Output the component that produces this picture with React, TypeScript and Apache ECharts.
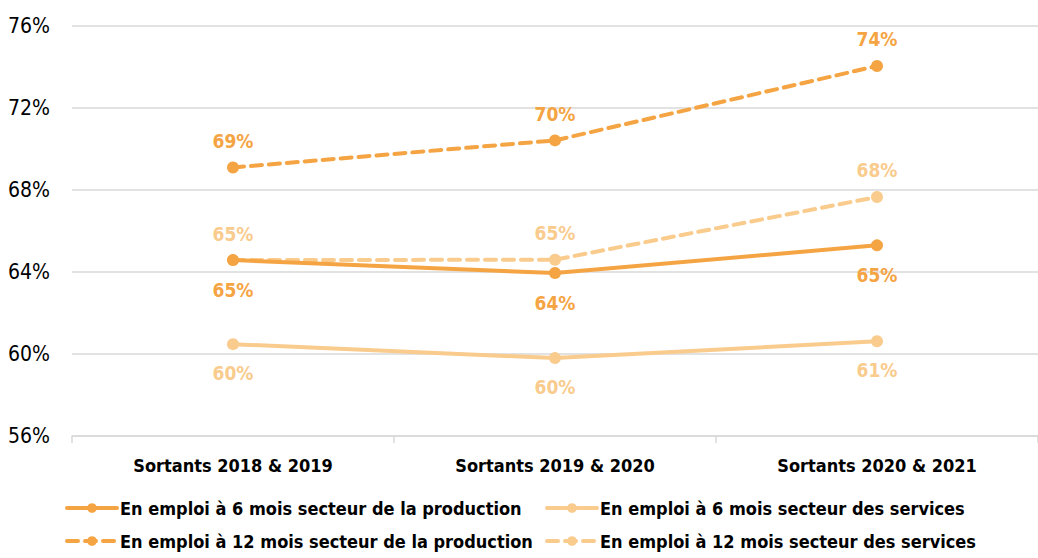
import React, { useEffect, useRef } from "react";
import * as echarts from "echarts";

const categories = ["Sortants 2018 & 2019", "Sortants 2019 & 2020", "Sortants 2020 & 2021"];
const seriesNames = [
  "En emploi à 6 mois secteur de la production",
  "En emploi à 6 mois secteur des services",
  "En emploi à 12 mois secteur de la production",
  "En emploi à 12 mois secteur des services",
];
const prod6 = [64.58, 63.95, 65.3];
const serv6 = [60.48, 59.8, 60.62];
const prod12 = [69.1, 70.42, 74.05];
const serv12 = [64.58, 64.6, 67.66];
const yTicks = { min: 56, max: 76, interval: 4 };

const DARK = "#F5A443";
const LIGHT = "#F9CB8D";
const FONT = "'DejaVu Sans Condensed', 'Liberation Sans Narrow', 'Arial Narrow', sans-serif";

export default function App() {
  const ref = useRef<HTMLDivElement>(null);
  useEffect(() => {
    document.body.style.margin = "0";
    const chart = echarts.init(ref.current!, null, { renderer: "svg" });
    const mk = (name: string, data: number[], color: string, dashed: boolean, pos: string, dist: number) => ({
      name,
      type: "line",
      data,
      symbol: "circle",
      symbolSize: 12,
      itemStyle: { color },
      lineStyle: { color, width: 4, type: dashed ? [11, 7] : "solid", cap: "round" },
      label: {
        show: true,
        position: pos,
        distance: dist,
        color,
        fontFamily: FONT,
        fontWeight: "bold",
        fontSize: 19,
        formatter: (p: any) => Math.round(p.value) + "%",
      },
      z: dashed ? 2 : 3,
    });
    const legendPos = [
      { left: 63, top: 497 },
      { left: 543, top: 497 },
      { left: 63, top: 530 },
      { left: 543, top: 530 },
    ];
    chart.setOption({
      animation: false,
      backgroundColor: "#fff",
      textStyle: { fontFamily: FONT },
      grid: { left: 72, right: -13, top: 26, bottom: 122, containLabel: false },
      legend: seriesNames.map((n, i) => ({
        data: [n],
        left: legendPos[i].left,
        top: legendPos[i].top,
        itemWidth: 50,
        itemHeight: 12,
        itemGap: 6,
        padding: 2,
        selectedMode: false,
        lineStyle: { width: 4 },
        textStyle: { fontFamily: FONT, fontWeight: "bold", fontSize: 18, color: "#000", padding: [0, 0, 0, -2] },
      })),
      xAxis: {
        type: "category",
        data: categories,
        axisLine: { show: true, lineStyle: { color: "#d9d9d9", width: 1.5 } },
        axisTick: { show: true, length: 7, lineStyle: { color: "#d9d9d9", width: 1.5 } },
        axisLabel: { fontFamily: FONT, fontWeight: "bold", fontSize: 18, color: "#000", margin: 20 },
      },
      yAxis: {
        type: "value",
        min: yTicks.min,
        max: yTicks.max,
        interval: yTicks.interval,
        axisLine: { show: false },
        axisTick: { show: false },
        splitLine: { lineStyle: { color: "#d9d9d9", width: 1.5 } },
        axisLabel: { fontFamily: FONT, fontSize: 21, color: "#000", margin: 22, formatter: "{value}%" },
      },
      series: [
        mk(seriesNames[0], prod6, DARK, false, "bottom", 14),
        mk(seriesNames[1], serv6, LIGHT, false, "bottom", 13),
        mk(seriesNames[2], prod12, DARK, true, "top", 11),
        mk(seriesNames[3], serv12, LIGHT, true, "top", 11),
      ],
    });
    return () => chart.dispose();
  }, []);
  return <div ref={ref} style={{ width: 1038, height: 558 }} />;
}
